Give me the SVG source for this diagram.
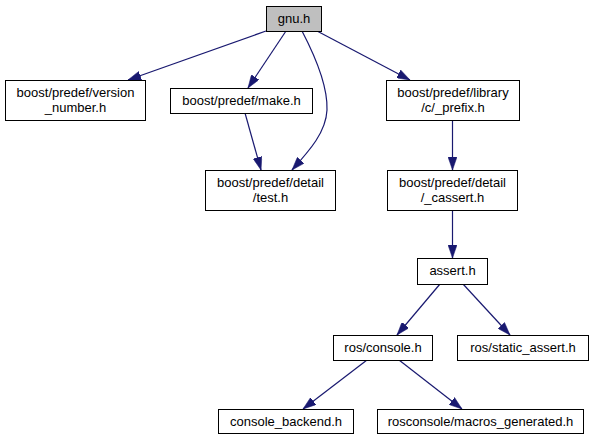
<svg xmlns="http://www.w3.org/2000/svg" width="593" height="440" viewBox="0 0 593 440">
<style>
.n rect{fill:#fff;stroke:#000;stroke-width:1}
.n.root rect{fill:#bfbfbf}
text{font-family:"Liberation Sans",Arial,Helvetica,sans-serif;font-size:13px;fill:#000;text-anchor:middle}
.e path{fill:none;stroke:#191970;stroke-width:1.2}
</style>
<defs>
<marker id="ah" markerUnits="userSpaceOnUse" viewBox="0 0 13 9" refX="13" refY="4.5" markerWidth="13" markerHeight="9" orient="auto">
<path d="M0,0 L13,4.5 L0,9 z" fill="#191970" stroke="#191970" stroke-width="0.5"/>
</marker>
</defs>
<rect width="593" height="440" fill="#fff"/>
<g class="e">
<path d="M266,31 L128,80" marker-end="url(#ah)"/>
<path d="M286,31 L248,88" marker-end="url(#ah)"/>
<path d="M302,31 C314,54 328,85 327,110 C326,132 310,150 292,170" marker-end="url(#ah)"/>
<path d="M317,31 L410,80" marker-end="url(#ah)"/>
<path d="M245,113 L261,170" marker-end="url(#ah)"/>
<path d="M452.5,120 L452.5,170" marker-end="url(#ah)"/>
<path d="M452.5,210 L452.5,258" marker-end="url(#ah)"/>
<path d="M440,284 L397,335" marker-end="url(#ah)"/>
<path d="M463,284 L510,335" marker-end="url(#ah)"/>
<path d="M367,360 L303,409" marker-end="url(#ah)"/>
<path d="M399,360 L462,409" marker-end="url(#ah)"/>
</g>
<g id="gnu" class="n root"><rect x="266.5" y="6.5" width="55" height="25"/><text x="294" y="23">gnu.h</text></g>
<g id="version_number" class="n"><rect x="5.5" y="80.5" width="140" height="40"/><text x="75.5" y="97">boost/predef/version</text><text x="75.5" y="112">_number.h</text></g>
<g id="make" class="n"><rect x="170.5" y="88.5" width="142" height="25"/><text x="241.5" y="105">boost/predef/make.h</text></g>
<g id="prefix" class="n"><rect x="386.5" y="80.5" width="133" height="40"/><text x="453" y="97">boost/predef/library</text><text x="453" y="112">/c/_prefix.h</text></g>
<g id="test" class="n"><rect x="205.5" y="170.5" width="130" height="40"/><text x="270.5" y="187">boost/predef/detail</text><text x="270.5" y="202">/test.h</text></g>
<g id="cassert" class="n"><rect x="387.5" y="170.5" width="130" height="40"/><text x="452.5" y="187">boost/predef/detail</text><text x="452.5" y="202">/_cassert.h</text></g>
<g id="assert" class="n"><rect x="417.5" y="258.5" width="70" height="26"/><text x="452.5" y="275">assert.h</text></g>
<g id="console" class="n"><rect x="333.5" y="335.5" width="99" height="25"/><text x="383" y="352">ros/console.h</text></g>
<g id="static_assert" class="n"><rect x="457.5" y="335.5" width="131" height="25"/><text x="523" y="352">ros/static_assert.h</text></g>
<g id="console_backend" class="n"><rect x="218.5" y="409.5" width="135" height="24"/><text x="286" y="426">console_backend.h</text></g>
<g id="macros_generated" class="n"><rect x="377.5" y="409.5" width="206" height="24"/><text x="480.5" y="426">rosconsole/macros_generated.h</text></g>
</svg>
